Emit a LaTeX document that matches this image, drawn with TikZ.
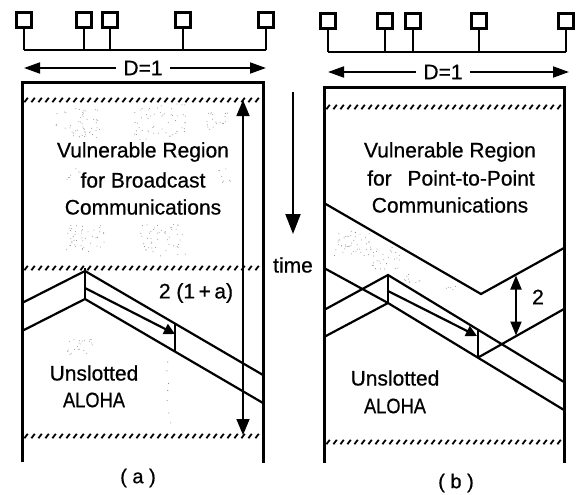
\documentclass[tikz,border=0pt]{standalone}
\usepackage{fontspec}
\setmainfont{Liberation Sans}
\newfontfamily\scanfont{Liberation Sans}[FakeBold=0.6]
\usetikzlibrary{arrows.meta}
\newcommand\hatchline[2]{\foreach \hx in {#1}{\draw[hatchst] (\hx,#2) ++(-1.6,2.2) -- ++(3.4,-4.4);}}
\newcommand\stipplecloud[4]{\foreach \si in {1,...,#4}{\fill[dotst] (#1+#3*rand,#2+#3*0.7*rand) circle (0.5pt);}}
\begin{document}
\begin{tikzpicture}[x=1pt,y=-1pt,
  wall/.style={line width=3pt},
  ray/.style={line width=2.2pt, line join=miter},
  hatchst/.style={line width=1.8pt},
  dotst/.style={black!45},
  box/.style={draw, line width=2.3pt, minimum width=15pt, minimum height=15pt, inner sep=0pt},
  stem/.style={line width=2.3pt},
  lbl/.style={font=\scanfont\fontsize{21}{26}\selectfont, inner sep=1pt},
  captxt/.style={font=\scanfont\fontsize{20}{24}\selectfont, inner sep=1pt},
  dimarrow/.style={line width=1.8pt, -{Triangle[length=16pt,width=11pt]}},
  dbl/.style={line width=1.6pt, {Triangle[length=16pt,width=13pt]}-{Triangle[length=16pt,width=13pt]}},
  dbls/.style={line width=1.8pt, {Triangle[length=14pt,width=11pt]}-{Triangle[length=14pt,width=11pt]}},
  tarrow/.style={line width=2pt, -{Triangle[length=20pt,width=15pt]}},
  midray/.style={line width=2.2pt, -{Triangle[length=11pt,width=11pt]}}
]
\useasboundingbox (0,0) rectangle (576,495);
\pgfmathsetseed{11}

% ---------------- panel (a) ----------------
\foreach \n/\x in {1/24,2/84,3/110,4/183,5/266}{
  \node[box] (a\n) at (\x,20) {};
  \coordinate (ab\n) at (\x,50);
  \draw[stem] (a\n.south) -- (ab\n);
}
\draw[stem] (ab1) -- (ab5);
\node[lbl, fill=white, inner xsep=7pt] (aD) at (143,68) {D=1};
\coordinate (aDl) at (24,68); \coordinate (aDr) at (266,68);
\draw[dimarrow] (aD) -- (aDl); \draw[dimarrow] (aD) -- (aDr);

\coordinate (aTL) at (22,83); \coordinate (aTR) at (263,83);
\coordinate (aBL) at (22,462); \coordinate (aBR) at (263,463);
\draw[wall] (aBL) -- (aTL) -- (aTR) -- (aBR);
\hatchline{26,33,...,260}{100}
\hatchline{26,33,...,260}{268}
\hatchline{26,33,...,260}{436}

% stipple (a)
\stipplecloud{78}{124}{22}{50}
\stipplecloud{160}{122}{26}{55}
\stipplecloud{218}{121}{12}{20}
\stipplecloud{74}{175}{10}{8}
\stipplecloud{222}{176}{10}{8}
\stipplecloud{85}{238}{20}{45}
\stipplecloud{163}{240}{23}{50}
\stipplecloud{80}{346}{13}{22}
\foreach \yy in {362,372,...,430}{\fill[dotst] (169+3*rand,\yy+3*rand) circle (0.6pt);}

\node[lbl] (avr) at (143,152) {Vulnerable Region};
\node[lbl] (afb) at (143,180) {for Broadcast};
\node[lbl] (acm) at (143,207) {Communications};

% rays (a)
\coordinate (aL1) at (22,303); \coordinate (aP1) at (85,271); \coordinate (aR1) at (263,375);
\coordinate (aL3) at (22,331); \coordinate (aP3) at (85,299); \coordinate (aR3) at (263,403);
\coordinate (aM0) at (85,288); \coordinate (aM1) at (175,334);
\coordinate (aV1) at (175,323.6); \coordinate (aV3) at (175,351.6);
\coordinate (aPk) at (85,268);
\draw[ray] (aL1) -- (aP1) -- (aR1);
\draw[ray] (aL3) -- (aP3) -- (aR3);
\draw[ray] (aPk) -- (aP3);
\draw[midray] (aM0) -- (aM1);
\draw[ray] (aV1) -- (aV3);

\coordinate (aAt) at (243,100); \coordinate (aAb) at (243,435);
\draw[dbl] (aAt) -- (aAb);
\node[lbl] (a2) at (196,293) {2 (1\,+\,a)};

\node[lbl] (aus) at (94,373) {Unslotted};
\node[lbl] (aal) at (94,400) {\scalebox{0.87}[1]{ALOHA}};
\node[captxt] (acap) at (138,478) {( a )};

% ---------------- time ----------------
\coordinate (t0) at (293,92); \coordinate (t1) at (293,234);
\draw[tarrow] (t0) -- (t1);
\node[lbl] (time) at (293,265) {time};

% ---------------- panel (b) ----------------
\foreach \n/\x in {1/328,2/385,3/413,4/479,5/566}{
  \node[box] (b\n) at (\x,21) {};
  \coordinate (bb\n) at (\x,52);
  \draw[stem] (b\n.south) -- (bb\n);
}
\draw[stem] (bb1) -- (bb5);
\node[lbl, fill=white, inner xsep=7pt] (bD) at (443,72) {D=1};
\coordinate (bDl) at (328,72); \coordinate (bDr) at (569,72);
\draw[dimarrow] (bD) -- (bDl); \draw[dimarrow] (bD) -- (bDr);

\coordinate (bTL) at (324,88); \coordinate (bTR) at (564,88);
\coordinate (bBL) at (324,463); \coordinate (bBR) at (564,463);
\draw[wall] (bBL) -- (bTL) -- (bTR) -- (bBR);
\hatchline{328,335,...,562}{107}
\hatchline{328,335,...,562}{442}

% stipple (b)
\stipplecloud{352}{243}{18}{45}
\stipplecloud{385}{258}{16}{32}
\stipplecloud{410}{278}{10}{10}
\stipplecloud{452}{290}{6}{5}

\node[lbl] (bvr) at (450,152) {Vulnerable Region};
\node[lbl] (bpp) at (451,178) {for\hspace{0.75em}Point-to-Point};
\node[lbl] (bcm) at (450,205) {Communications};

% rays (b)
\coordinate (bU0) at (324,203); \coordinate (bU1) at (481,294); \coordinate (bU2) at (564,248);
\coordinate (bL1) at (324,310); \coordinate (bP1) at (388,275); \coordinate (bR1) at (564,382);
\coordinate (bL3) at (324,337); \coordinate (bP3) at (388,303); \coordinate (bR3) at (564,410);
\coordinate (bW0) at (324,268); \coordinate (bW1) at (478,357.6); \coordinate (bW2) at (564,309);
\coordinate (bV1) at (478,329.6);
\coordinate (bM0) at (388,291); \coordinate (bM1) at (477,336);
\draw[ray] (bU0) -- (bU1) -- (bU2);
\draw[ray] (bL1) -- (bP1) -- (bR1);
\draw[ray] (bL3) -- (bP3) -- (bR3);
\draw[ray] (bW0) -- (bP3);
\draw[ray] (bW1) -- (bW2);
\draw[ray] (bP1) -- (bP3);
\draw[ray] (bV1) -- (bW1);
\draw[midray] (bM0) -- (bM1);

\coordinate (bAt) at (516,275.5); \coordinate (bAb) at (516,335.5);
\draw[dbls] (bAt) -- (bAb);
\node[lbl] (b2) at (538,297) {2};

\node[lbl] (bus) at (395,378) {Unslotted};
\node[lbl] (bal) at (395,406) {\scalebox{0.87}[1]{ALOHA}};
\node[captxt] (bcap) at (456,483) {( b )};
\end{tikzpicture}
\end{document}
